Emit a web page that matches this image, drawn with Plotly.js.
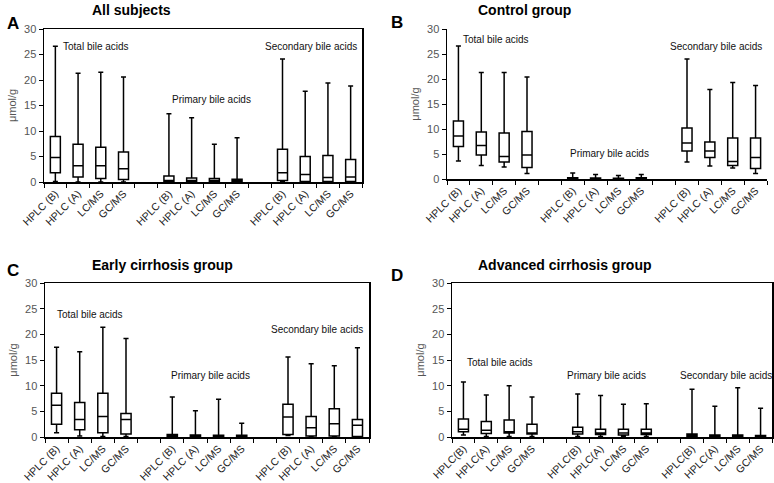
<!DOCTYPE html>
<html>
<head>
<meta charset="utf-8">
<script src="https://cdn.plot.ly/plotly-3.0.1.min.js"></script>
<style>
  body { margin: 0; background: #fff; }
  #chart { width: 774px; height: 483px; }
</style>
</head>
<body>
<div id="chart"></div>
<script>
// 14 slots on each x axis, empty ones separate the three bile acid groups
const slotLabels = ["HPLC (B)", "HPLC (A)", "LC/MS", "GC/MS", "",
                    "HPLC (B)", "HPLC (A)", "LC/MS", "GC/MS", "",
                    "HPLC (B)", "HPLC (A)", "LC/MS", "GC/MS"];
const slotLabelsD = ["HPLC(B)", "HPLC(A)", "LC/MS", "GC/MS", "",
                     "HPLC(B)", "HPLC(A)", "LC/MS", "GC/MS", "",
                     "HPLC(B)", "HPLC(A)", "LC/MS", "GC/MS"];
const groupNames = ["Total bile acids", "Primary bile acids", "Secondary bile acids"];

// A - all subjects (total x4, primary x4, secondary x4)
const allUpper = [26.6, 21.3, 21.5, 20.6, 13.4, 12.6, 7.4, 8.7, 24.1, 17.8, 19.4, 18.8];
const allQ3    = [8.9, 7.4, 6.8, 5.9, 1.2, 0.8, 0.7, 0.55, 6.4, 5.0, 5.2, 4.4];
const allMed   = [4.8, 3.2, 3.2, 2.6, 0.3, 0.3, 0.25, 0.25, 1.8, 1.45, 0.9, 1.0];
const allQ1    = [1.8, 1.0, 0.7, 0.5, 0.1, 0.1, 0.08, 0.08, 0.3, 0.1, 0.1, 0.1];
const allLow   = [0.1, 0.0, 0.0, 0.0, 0.0, 0.0, 0.0, 0.0, 0.05, 0.0, 0.0, 0.0];

// B - control group
const ctlUpper = [26.6, 21.3, 21.3, 20.4, 1.2, 0.9, 0.7, 0.9, 24.0, 17.9, 19.3, 18.7];
const ctlQ3    = [11.6, 9.4, 9.2, 9.5, 0.25, 0.2, 0.15, 0.25, 10.2, 7.4, 8.2, 8.2];
const ctlMed   = [8.6, 6.7, 4.5, 4.8, 0.1, 0.1, 0.08, 0.1, 7.2, 5.6, 3.5, 4.3];
const ctlQ1    = [6.5, 4.8, 3.4, 2.3, 0.05, 0.05, 0.04, 0.05, 5.6, 4.3, 2.7, 2.1];
const ctlLow   = [3.6, 2.7, 2.4, 1.1, 0.0, 0.0, 0.0, 0.0, 3.4, 2.6, 2.2, 1.1];

// C - early cirrhosis group
const earlyUpper = [17.5, 16.6, 21.4, 19.2, 7.8, 5.1, 7.35, 2.7, 15.6, 14.25, 13.9, 17.4];
const earlyQ3    = [8.5, 6.7, 8.5, 4.6, 0.5, 0.4, 0.35, 0.35, 6.4, 4.0, 5.5, 3.4];
const earlyMed   = [6.2, 3.4, 4.0, 3.4, 0.2, 0.2, 0.15, 0.15, 3.9, 1.8, 2.6, 2.3];
const earlyQ1    = [2.5, 1.4, 0.85, 0.6, 0.05, 0.05, 0.05, 0.05, 0.5, 0.2, 0.2, 0.1];
const earlyLow   = [0.85, 0.2, 0.1, 0.1, 0.0, 0.0, 0.0, 0.0, 0.3, 0.0, 0.0, 0.0];

// D - advanced cirrhosis group
const advUpper = [10.7, 8.2, 10.0, 7.8, 8.4, 8.1, 6.4, 6.5, 9.3, 6.0, 9.6, 5.6];
const advQ3    = [3.5, 3.0, 3.3, 2.5, 1.9, 1.5, 1.5, 1.5, 0.6, 0.4, 0.4, 0.3];
const advMed   = [1.5, 1.3, 1.0, 0.8, 1.0, 0.8, 0.8, 0.8, 0.3, 0.2, 0.2, 0.15];
const advQ1    = [1.0, 0.7, 0.8, 0.6, 0.6, 0.5, 0.4, 0.5, 0.1, 0.05, 0.05, 0.05];
const advLow   = [0.4, 0.1, 0.1, 0.1, 0.1, 0.1, 0.1, 0.1, 0.0, 0.0, 0.0, 0.0];

const FONT = "Liberation Sans, Arial, sans-serif";

// slot index of each box (skip the empty separator slots)
const boxSlots = [];
slotLabels.forEach((lab, i) => { if (lab !== "") boxSlots.push(i); });

function boxTrace(ax, upper, q3, med, q1, low) {
  return {
    type: 'box',
    xaxis: 'x' + ax, yaxis: 'y' + ax,
    x: boxSlots,
    upperfence: upper, q3: q3, median: med, q1: q1, lowerfence: low,
    width: 0.44,
    whiskerwidth: 0.5,
    boxpoints: false,
    fillcolor: 'white',
    line: {color: 'black', width: 1.5},
    showlegend: false,
    hoverinfo: 'skip'
  };
}

const data = [
  boxTrace('', allUpper, allQ3, allMed, allQ1, allLow),
  boxTrace('2', ctlUpper, ctlQ3, ctlMed, ctlQ1, ctlLow),
  boxTrace('3', earlyUpper, earlyQ3, earlyMed, earlyQ1, earlyLow),
  boxTrace('4', advUpper, advQ3, advMed, advQ1, advLow)
];

function xAxis(domain, anchor, labels, mirror) {
  return {
    domain: domain, anchor: anchor,
    range: [-0.5, 13.5],
    tickmode: 'array',
    tickvals: labels.map((l, i) => i),
    ticktext: labels,
    ticks: '',
    tickangle: -45,
    tickfont: {family: FONT, size: 10.5, color: '#222'},
    showgrid: false, zeroline: false,
    showline: true, linecolor: 'black', linewidth: 1.5,
    mirror: mirror,
    minor: {tickmode: 'linear', tick0: -0.5, dtick: 1, ticks: 'outside',
            ticklen: 4, tickcolor: 'black', tickwidth: 1, showgrid: false}
  };
}

function yAxis(domain, anchor, mirror) {
  return {
    domain: domain, anchor: anchor,
    range: [0, 30], dtick: 5,
    ticks: 'outside', ticklen: 4, tickcolor: 'black',
    tickfont: {family: FONT, size: 11, color: '#555'},
    title: {text: 'μmol/g', font: {family: FONT, size: 11, color: '#555'}, standoff: 5},
    showgrid: false, zeroline: false,
    showline: true, linecolor: 'black', linewidth: 1.5,
    mirror: mirror
  };
}

const annotations = [];

function panelText(ax, letter, title, lx, ly, tx, ty, pos) {
  annotations.push({xref: 'paper', yref: 'paper', x: lx, y: ly, text: '<b>' + letter + '</b>',
    showarrow: false, xanchor: 'left', yanchor: 'middle',
    font: {family: FONT, size: 17, color: 'black'}});
  annotations.push({xref: 'paper', yref: 'paper', x: tx, y: ty, text: '<b>' + title + '</b>',
    showarrow: false, xanchor: 'left', yanchor: 'middle',
    font: {family: FONT, size: 14, color: 'black'}});
  groupNames.forEach((g, i) => {
    annotations.push({xref: 'x' + ax, yref: 'y' + ax, x: pos[i][0], y: pos[i][1], text: g,
      showarrow: false, xanchor: 'center', yanchor: 'middle',
      font: {family: FONT, size: 10, color: '#111'}});
  });
}

panelText('', 'A', 'All subjects', 5 / 774, 1 - 24 / 483, 90 / 774, 1 - 10 / 483,
  [[1.8, 26.6], [6.86, 16.1], [11.26, 26.6]]);
panelText('2', 'B', 'Control group', 389 / 774, 1 - 22 / 483, 476 / 774, 1 - 10 / 483,
  [[1.64, 27.8], [6.6, 5.0], [11.27, 26.4]]);
panelText('3', 'C', 'Early cirrhosis group', 5 / 774, 1 - 270 / 483, 90 / 774, 1 - 265 / 483,
  [[1.44, 23.8], [6.67, 11.9], [11.25, 21.0]]);
panelText('4', 'D', 'Advanced cirrhosis group', 389 / 774, 1 - 275 / 483, 476 / 774, 1 - 265 / 483,
  [[1.6, 14.6], [6.24, 11.9], [11.5, 11.9]]);

const layout = {
  width: 774, height: 483,
  margin: {l: 0, r: 0, t: 0, b: 0},
  paper_bgcolor: 'white', plot_bgcolor: 'white',
  font: {family: FONT},
  boxmode: 'overlay',
  xaxis:  xAxis([44 / 774, 362 / 774], 'y', slotLabels, true),
  yaxis:  yAxis([1 - 182 / 483, 1 - 29 / 483], 'x', true),
  xaxis2: xAxis([447 / 774, 767 / 774], 'y2', slotLabels, false),
  yaxis2: yAxis([1 - 179 / 483, 1 - 29 / 483], 'x2', false),
  xaxis3: xAxis([45 / 774, 369 / 774], 'y3', slotLabels, true),
  yaxis3: yAxis([1 - 437 / 483, 1 - 283 / 483], 'x3', true),
  xaxis4: xAxis([452 / 774, 772 / 774], 'y4', slotLabelsD, true),
  yaxis4: yAxis([1 - 437 / 483, 1 - 283 / 483], 'x4', true),
  annotations: annotations
};

Plotly.newPlot('chart', data, layout, {displayModeBar: false, staticPlot: true});
</script>
</body>
</html>
